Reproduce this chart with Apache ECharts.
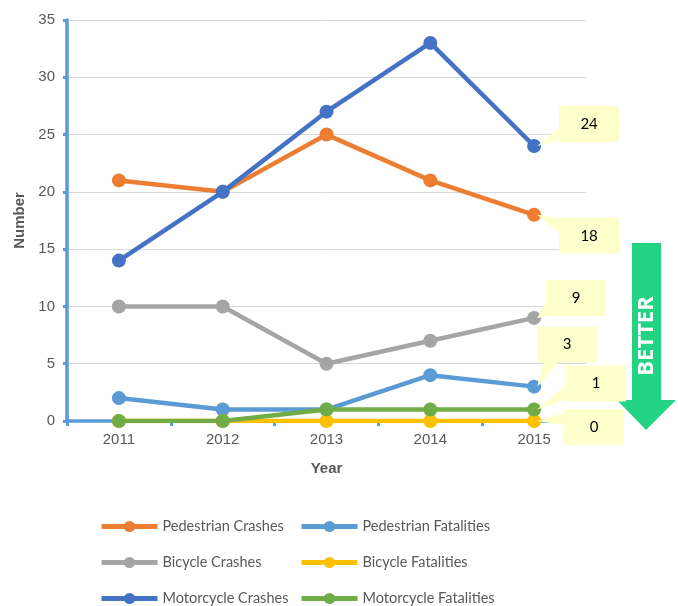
<!DOCTYPE html>
<html><head><meta charset="utf-8">
<script src="https://cdn.jsdelivr.net/npm/echarts@6/dist/echarts.min.js"></script>
<style>html,body{margin:0;padding:0;background:#fff}#c{width:678px;height:606px}</style>
</head><body><div id="c"></div>
<script>
var years = ['2011','2012','2013','2014','2015'];
var pedestrianCrashes = [21, 20, 25, 21, 18];
var pedestrianFatalities = [2, 1, 1, 4, 3];
var bicycleCrashes = [10, 10, 5, 7, 9];
var bicycleFatalities = [0, 0, 0, 0, 0];
var motorcycleCrashes = [14, 20, 27, 33, 24];
var motorcycleFatalities = [0, 0, 1, 1, 1];
var yTicks = {min: 0, max: 35, interval: 5};

var names = ['Pedestrian Crashes','Pedestrian Fatalities','Bicycle Crashes','Bicycle Fatalities','Motorcycle Crashes','Motorcycle Fatalities'];
var values = [pedestrianCrashes, pedestrianFatalities, bicycleCrashes, bicycleFatalities, motorcycleCrashes, motorcycleFatalities];
var colors = ['#ED7D31','#5B9BD5','#A5A5A5','#FFC000','#4472C4','#70AD47'];

// callout box offsets relative to last point
var callouts = [
  {dx:25, dy:3,   b1:[25,3],  b2:[25,18]},
  {dx:3,  dy:-60, b1:[10,-25],b2:[25,-25]},
  {dx:12, dy:-38, b1:[12,-16],b2:[22,-3]},
  {dx:30, dy:-12, b1:[30,-8], b2:[30,4]},
  {dx:25, dy:-40, b1:[25,-18],b2:[25,-6]},
  {dx:32, dy:-44, b1:[32,-25],b2:[32,-10]}
];
// legend placement (column x, row top)
var legendPos = [[99,519],[299,519],[99,555],[299,555],[99,591],[299,591]];

var chart = echarts.init(document.getElementById('c'));
var series = names.map(function(n,i){
  return {name:n, type:'line', data:values[i], symbol:'circle', symbolSize:14,
    lineStyle:{width:4.5,color:colors[i]}, itemStyle:{color:colors[i]}, z:2+i};
});
var legendText = {color:'#595959', fontSize:14.5, fontFamily:'Lato'};
var legends = names.map(function(n,i){
  return {data:[n], left:legendPos[i][0], top:legendPos[i][1], itemGap:2, itemWidth:56, itemHeight:14,
    lineStyle:{width:5}, textStyle:legendText, padding:0};
});
chart.setOption({
  animation:false,
  grid:{left:67, right:92, top:20, bottom:185},
  xAxis:{type:'category', data:years, boundaryGap:true,
    name:'Year', nameLocation:'middle', nameGap:40,
    nameTextStyle:{color:'#595959', fontSize:15, fontWeight:'bold', fontFamily:'Liberation Sans'},
    axisLine:{lineStyle:{color:'#5B9BD5', width:3.5}},
    axisTick:{show:true, length:5, lineStyle:{color:'#5B9BD5', width:3}},
    axisLabel:{color:'#595959', fontSize:15, margin:11, fontFamily:'Liberation Sans'}},
  yAxis:{type:'value', min:yTicks.min, max:yTicks.max, interval:yTicks.interval,
    name:'Number', nameLocation:'middle', nameGap:38, nameRotate:90,
    nameTextStyle:{color:'#595959', fontSize:15, fontWeight:'bold', fontFamily:'Liberation Sans'},
    axisLine:{show:true, lineStyle:{color:'#5B9BD5', width:3.5}},
    axisTick:{show:true, length:4, lineStyle:{color:'#5B9BD5', width:3}},
    axisLabel:{color:'#595959', fontSize:15, margin:12, fontFamily:'Liberation Sans'},
    splitLine:{lineStyle:{color:'#D9D9D9', width:1}}},
  legend:legends,
  series:series
});

function drawGraphics(){
  var g = [];
  var last = years.length - 1;
  values.forEach(function(v,i){
    var p = chart.convertToPixel({seriesIndex:i}, [last, v[last]]);
    var c = callouts[i];
    g.push({type:'polygon', z:50, shape:{points:[[p[0]+3,p[1]],[p[0]+c.b1[0],p[1]+c.b1[1]],[p[0]+c.b2[0],p[1]+c.b2[1]]]}, style:{fill:'#FFFFCC'}});
    g.push({type:'rect', z:50, shape:{x:p[0]+c.dx, y:p[1]+c.dy, width:60, height:36}, style:{fill:'#FFFFCC'}});
    g.push({type:'text', z:51, x:p[0]+c.dx+30, y:p[1]+c.dy+18, style:{text:String(v[last]), fill:'#000', font:'15px Lato', align:'center', verticalAlign:'middle'}});
  });
  // BETTER arrow
  g.push({type:'polygon', z:40, shape:{points:[[632,243],[661,243],[661,400],[676,400],[646,430],[617,400],[632,400]]}, style:{fill:'#22D384'}});
  g.push({type:'text', z:41, x:647, y:336, rotation:Math.PI/2, style:{text:'BETTER', fill:'#fff', font:'bold 22px "Open Sans"', align:'center', verticalAlign:'middle'}});
  chart.setOption({graphic:g});
}
drawGraphics();
</script></body></html>
